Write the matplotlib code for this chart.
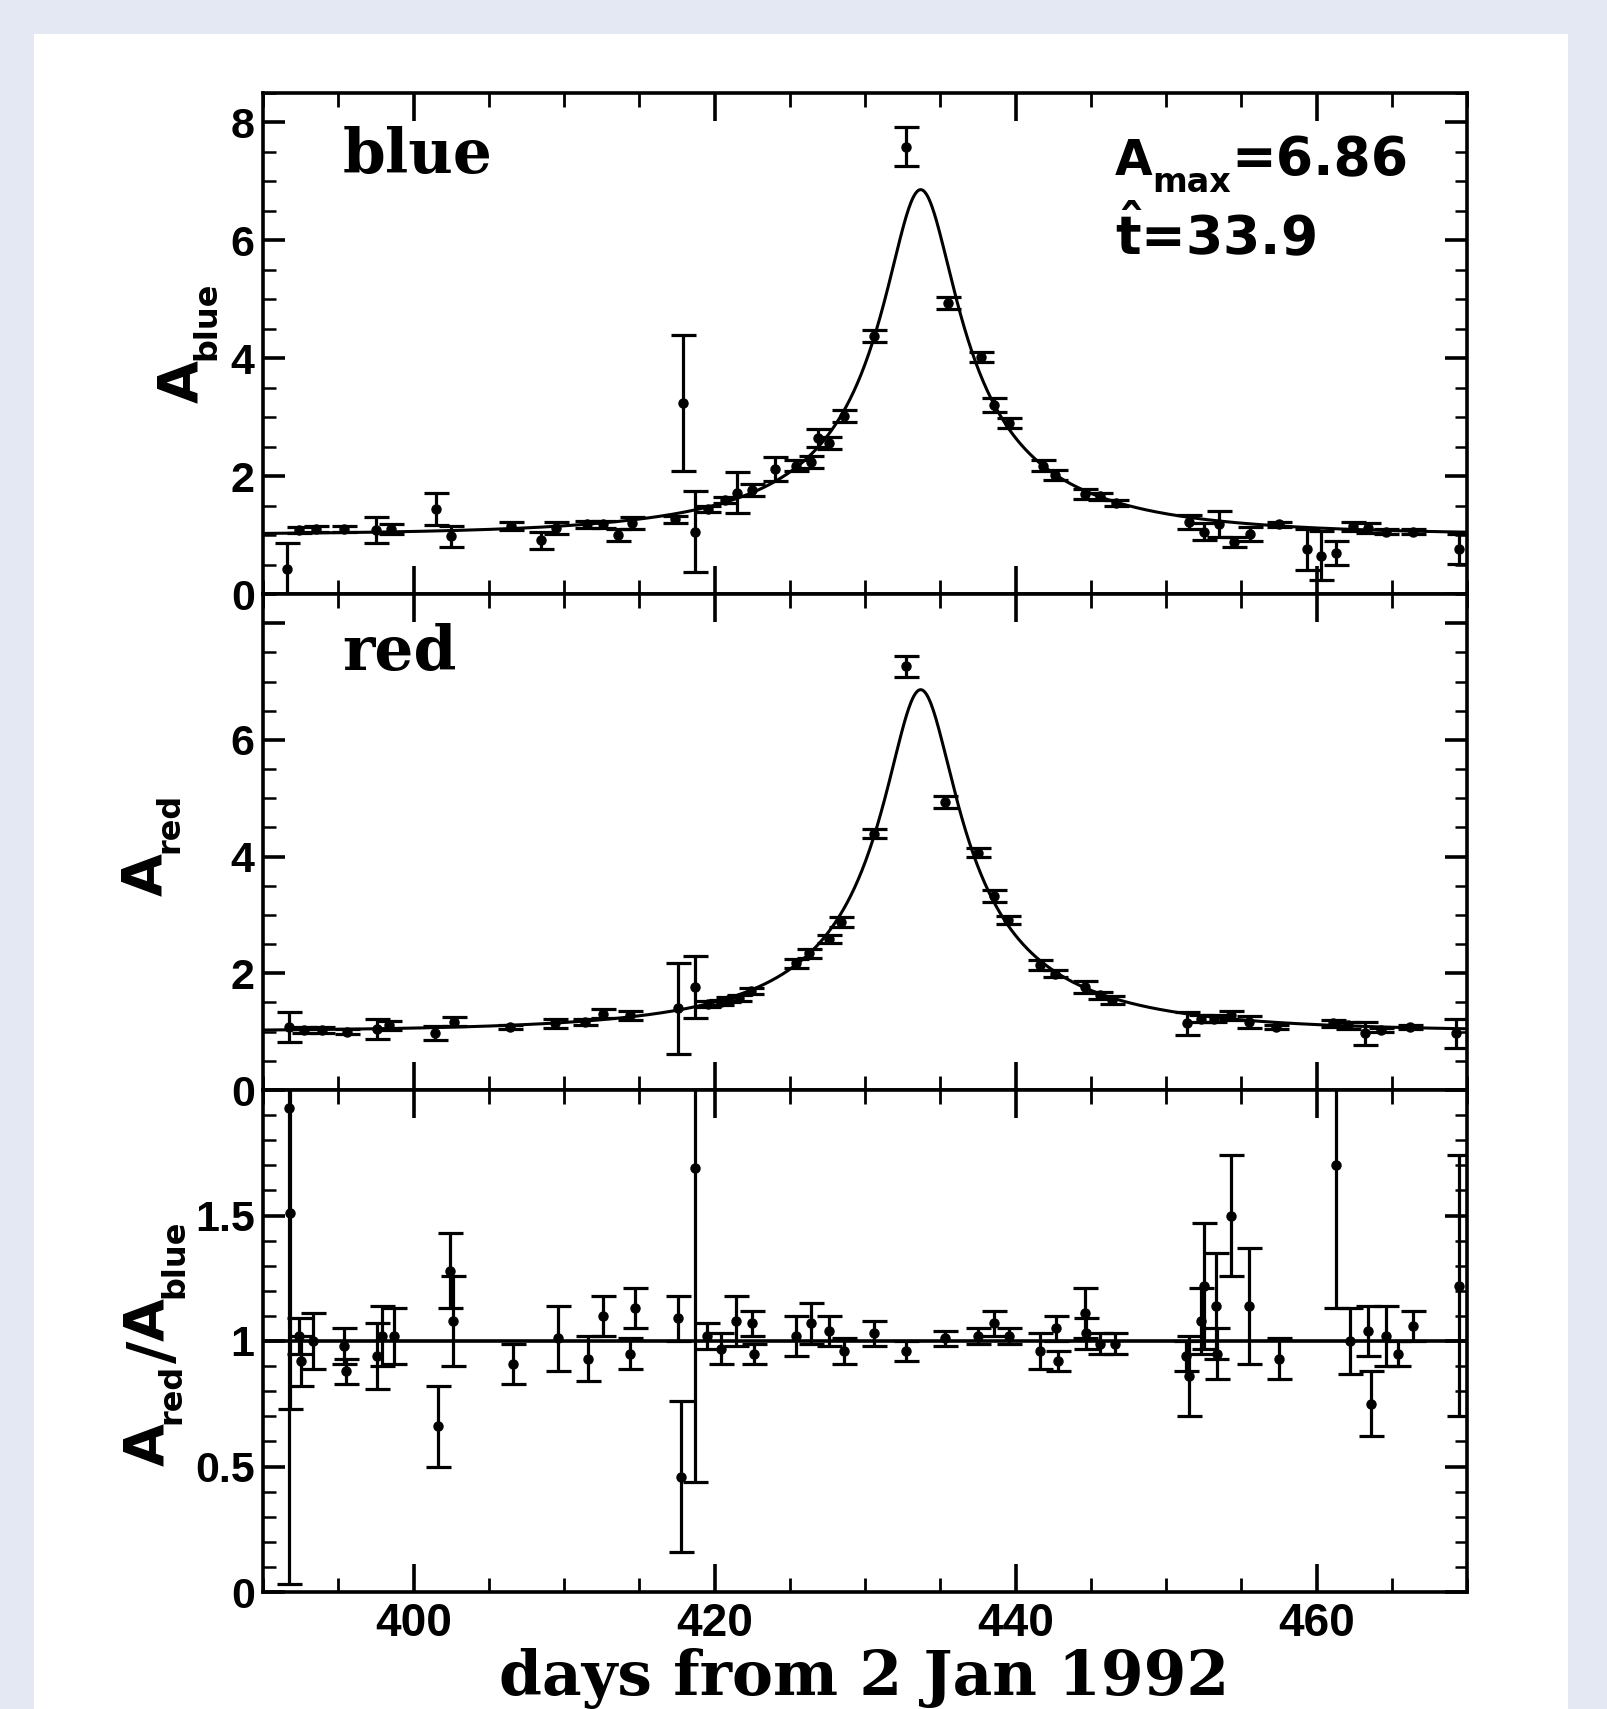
import numpy as np
import matplotlib
matplotlib.use("Agg")
import matplotlib.pyplot as plt
from matplotlib.ticker import MultipleLocator
from matplotlib.patches import Rectangle

plt.rcParams['mathtext.fontset'] = 'dejavusans'

# ---------------- data ----------------
t_blue = [391.6, 392.4, 393.5, 395.4, 397.5, 398.5, 401.5, 402.5, 406.5, 408.5,
          409.5, 411.5, 412.6, 413.6, 414.5, 417.4, 417.9, 418.7, 419.6, 420.7,
          421.5, 422.5, 424.0, 425.4, 426.4, 426.9, 427.6, 428.6, 430.6, 432.7,
          435.5, 437.7, 438.6, 439.6, 441.8, 442.6, 444.6, 445.6, 446.7, 451.5,
          452.5, 453.5, 454.5, 455.6, 457.5, 459.4, 460.3, 461.3, 462.4, 463.4,
          464.6, 466.4, 469.5]
a_blue = [0.42, 1.08, 1.10, 1.10, 1.08, 1.10, 1.44, 0.98, 1.15, 0.91,
          1.12, 1.18, 1.18, 1.00, 1.20, 1.27, 3.24, 1.06, 1.44, 1.60,
          1.72, 1.76, 2.12, 2.18, 2.24, 2.65, 2.56, 3.02, 4.38, 7.59,
          4.94, 4.02, 3.20, 2.90, 2.18, 2.02, 1.70, 1.66, 1.54, 1.22,
          1.06, 1.18, 0.88, 1.02, 1.18, 0.76, 0.65, 0.70, 1.15, 1.12,
          1.06, 1.06, 0.76]
e_blue = [0.45, 0.05, 0.05, 0.05, 0.22, 0.08, 0.27, 0.18, 0.07, 0.15,
          0.10, 0.06, 0.06, 0.10, 0.10, 0.06, 1.16, 0.69, 0.05, 0.05,
          0.35, 0.10, 0.20, 0.10, 0.10, 0.15, 0.10, 0.10, 0.10, 0.33,
          0.10, 0.08, 0.12, 0.08, 0.10, 0.08, 0.08, 0.06, 0.05, 0.12,
          0.14, 0.22, 0.08, 0.12, 0.05, 0.35, 0.42, 0.20, 0.08, 0.08,
          0.05, 0.04, 0.25]

t_red = [391.7, 392.7, 393.9, 395.6, 397.6, 398.4, 401.4, 402.7, 406.4, 409.4,
         411.4, 412.6, 414.4, 417.6, 418.7, 419.6, 420.4, 420.9, 421.6, 422.4,
         425.4, 426.3, 427.6, 428.4, 430.6, 432.7, 435.3, 437.5, 438.6, 439.5,
         441.6, 442.6, 444.6, 445.6, 446.4, 451.4, 452.3, 453.2, 454.3, 455.5,
         457.3, 461.1, 462.1, 463.2, 464.3, 466.2, 469.3]
a_red = [1.08, 1.03, 1.03, 1.00, 1.05, 1.11, 0.97, 1.17, 1.08, 1.14,
         1.17, 1.31, 1.28, 1.40, 1.77, 1.47, 1.50, 1.55, 1.58, 1.70,
         2.17, 2.34, 2.59, 2.88, 4.39, 7.26, 4.93, 4.07, 3.33, 2.91,
         2.14, 1.99, 1.77, 1.62, 1.54, 1.14, 1.22, 1.22, 1.28, 1.17,
         1.08, 1.14, 1.11, 0.97, 1.03, 1.08, 0.97]
e_red = [0.25, 0.05, 0.05, 0.04, 0.17, 0.08, 0.12, 0.08, 0.04, 0.07,
         0.05, 0.07, 0.08, 0.78, 0.53, 0.05, 0.05, 0.05, 0.05, 0.05,
         0.08, 0.08, 0.07, 0.08, 0.08, 0.18, 0.10, 0.07, 0.10, 0.07,
         0.08, 0.06, 0.10, 0.06, 0.07, 0.20, 0.06, 0.06, 0.08, 0.10,
         0.04, 0.06, 0.06, 0.20, 0.04, 0.03, 0.25]

t_ratio = [391.7, 391.8, 392.4, 392.5, 393.3, 395.4, 395.5, 397.6, 397.9, 398.7,
           401.6, 402.4, 402.6, 406.6, 409.6, 411.6, 412.6, 414.4, 414.7, 417.6,
           417.8, 418.7, 419.5, 420.4, 421.4, 422.5, 422.6, 425.4, 426.4, 427.6,
           428.6, 430.6, 432.7, 435.3, 437.5, 438.6, 439.6, 441.6, 442.7, 442.8,
           444.6, 444.7, 445.6, 446.6, 451.3, 451.5, 452.3, 452.5, 453.3, 453.4,
           454.3, 455.5, 457.5, 461.3, 462.2, 463.4, 463.6, 464.6, 465.4, 466.4,
           469.5]
ratio = [1.93, 1.51, 1.02, 0.92, 1.00, 0.98, 0.88, 0.94, 1.02, 1.02,
         0.66, 1.28, 1.08, 0.91, 1.01, 0.93, 1.10, 0.95, 1.13, 1.09,
         0.46, 1.69, 1.02, 0.97, 1.08, 1.07, 0.95, 1.02, 1.07, 1.04,
         0.96, 1.03, 0.96, 1.01, 1.02, 1.07, 1.02, 0.96, 1.05, 0.92,
         1.11, 1.03, 0.99, 0.99, 0.94, 0.86, 1.08, 1.22, 1.14, 0.95,
         1.50, 1.14, 0.93, 1.70, 1.00, 1.04, 0.75, 1.02, 0.95, 1.06,
         1.22]
e_ratio = [1.90, 0.78, 0.07, 0.10, 0.11, 0.07, 0.05, 0.13, 0.12, 0.11,
           0.16, 0.15, 0.18, 0.08, 0.13, 0.09, 0.08, 0.06, 0.08, 0.09,
           0.30, 1.25, 0.05, 0.06, 0.10, 0.05, 0.04, 0.08, 0.08, 0.06,
           0.05, 0.05, 0.04, 0.03, 0.03, 0.05, 0.03, 0.07, 0.05, 0.04,
           0.10, 0.06, 0.04, 0.04, 0.06, 0.16, 0.13, 0.25, 0.21, 0.10,
           0.24, 0.23, 0.08, 0.57, 0.13, 0.10, 0.13, 0.12, 0.05, 0.06,
           0.52]

x_ticks = [400, 420, 440, 460]
x_tick_labels = ['400', '420', '440', '460']
blue_yticks = [0, 2, 4, 6, 8]
blue_ytick_labels = ['0', '2', '4', '6', '8']
red_yticks = [0, 2, 4, 6, 8]
red_ytick_labels = ['0', '2', '4', '6', '']
ratio_yticks = [0, 0.5, 1, 1.5, 2]
ratio_ytick_labels = ['0', '0.5', '1', '1.5', '']

# fit parameters printed on the chart
A_MAX = 6.86
T_HAT = 33.9
T_PEAK = 433.7


def paczynski(t):
    u0 = np.sqrt(-2 + 2 * A_MAX / np.sqrt(A_MAX ** 2 - 1))
    u = np.sqrt(u0 ** 2 + ((t - T_PEAK) / (T_HAT / 2)) ** 2)
    return (u ** 2 + 2) / (u * np.sqrt(u ** 2 + 4))


# ---------------- figure ----------------
W, H, DPI = 1608, 1709, 100
fig = plt.figure(figsize=(W / DPI, H / DPI), dpi=DPI, facecolor='#e4e8f3')
fig.add_artist(Rectangle((34 / W, 0), (1568 - 34) / W, 1 - 34 / H,
                         transform=fig.transFigure, facecolor='white',
                         edgecolor='none', zorder=-5))

L = 263 / W
WD = (1467 - 263) / W
ax_b = fig.add_axes([L, 1 - 594 / H, WD, (594 - 93) / H])
ax_r = fig.add_axes([L, 1 - 1090 / H, WD, (1090 - 594) / H])
ax_q = fig.add_axes([L, 1 - 1592 / H, WD, (1592 - 1090) / H])

TICKFONT = dict(family='Liberation Sans', fontweight='bold')


def style(ax, ylim, yticks, ylabels, ymin_step):
    ax.set_xlim(390, 470)
    ax.set_ylim(*ylim)
    ax.set_xticks(x_ticks)
    ax.xaxis.set_minor_locator(MultipleLocator(5))
    ax.set_yticks(yticks)
    ax.set_yticklabels(ylabels, fontsize=31, **TICKFONT)
    ax.yaxis.set_minor_locator(MultipleLocator(ymin_step))
    ax.tick_params(which='both', direction='in', top=True, right=True,
                   color='k')
    ax.tick_params(axis='x', which='major', length=20, width=2.6)
    ax.tick_params(axis='x', which='minor', length=10, width=2.0)
    ax.tick_params(axis='y', which='major', length=16, width=2.6, pad=6)
    ax.tick_params(axis='y', which='minor', length=9, width=1.8)
    for sp in ax.spines.values():
        sp.set_linewidth(2.6)
        sp.set_color('k')


EB = dict(fmt='o', ms=6.5, mfc='k', mec='k', ecolor='k', elinewidth=2.3,
          capsize=9, capthick=2.3, zorder=3)

tt = np.linspace(390, 470, 1601)

ax_b.plot(tt, paczynski(tt), color='k', lw=2.2, zorder=2)
ax_b.errorbar(t_blue, a_blue, yerr=e_blue, **EB)
style(ax_b, (0, 8.5), blue_yticks, blue_ytick_labels, 0.5)
ax_b.tick_params(axis='x', labelbottom=False)

ax_r.plot(tt, paczynski(tt), color='k', lw=2.2, zorder=2)
ax_r.errorbar(t_red, a_red, yerr=e_red, **EB)
style(ax_r, (0, 8.5), red_yticks, red_ytick_labels, 0.5)
ax_r.tick_params(axis='x', labelbottom=False)

ax_q.axhline(1.0, color='k', lw=2.6, zorder=2)
ax_q.errorbar(t_ratio, ratio, yerr=e_ratio, **EB)
style(ax_q, (0, 2), ratio_yticks, ratio_ytick_labels, 0.1)
ax_q.set_xticklabels(x_tick_labels, fontsize=33, **TICKFONT)
ax_q.tick_params(axis='x', which='major', pad=7)

renderer = fig.canvas.get_renderer()

# x label, fitted to the reference width
SERIF = dict(family='DejaVu Serif', fontweight='bold')
xl = fig.text(864 / W, 1 - 1695 / H, 'days from 2 Jan 1992', fontsize=40,
              ha='center', va='baseline', **SERIF)
wpx = xl.get_window_extent(renderer).width
fs_serif = 40 * 729 / wpx
xl.set_fontsize(fs_serif)

ax_b.text(395.3, 7.14, 'blue', fontsize=fs_serif, ha='left', va='baseline', **SERIF)
ax_r.text(395.25, 7.2, 'red', fontsize=fs_serif, ha='left', va='baseline', **SERIF)

SANS = dict(family='DejaVu Sans', fontweight='bold')


def hseq(x_px, y_px, pieces):
    x = x_px
    for s, fs, drop in pieces:
        t = fig.text(x / W, 1 - (y_px + drop) / H, s, fontsize=fs,
                     ha='left', va='baseline', **SANS)
        x += t.get_window_extent(renderer).width


def vseq(x_base, y_center, pieces):
    texts, lens = [], []
    for s, fs, drop in pieces:
        t = fig.text(0, 0, s, fontsize=fs, rotation=90, rotation_mode='anchor',
                     ha='left', va='baseline', **SANS)
        texts.append(t)
        lens.append(t.get_window_extent(renderer).height)
    y = y_center + sum(lens) / 2
    for t, ln, (s, fs, drop) in zip(texts, lens, pieces):
        t.set_position(((x_base + drop) / W, 1 - y / H))
        y -= ln


hseq(1115, 175, [('A', 35, 0), ('max', 24, 17), ('=6.86', 38.5, 0)])
hseq(1115, 255, [(r'$\mathbf{\hat{t}}$=33.9', 38.5, 0)])

vseq(197, 342, [('A', 40, 0), ('blue', 23, 18)])
vseq(161, 844, [('A', 40, 0), ('red', 23, 17)])
vseq(163, 1343, [('A', 40, 0), ('red', 23, 17), ('/', 44, 8),
                 ('A', 40, 0), ('blue', 23, 20)])

fig.savefig('out.png', dpi=DPI, facecolor=fig.get_facecolor())
